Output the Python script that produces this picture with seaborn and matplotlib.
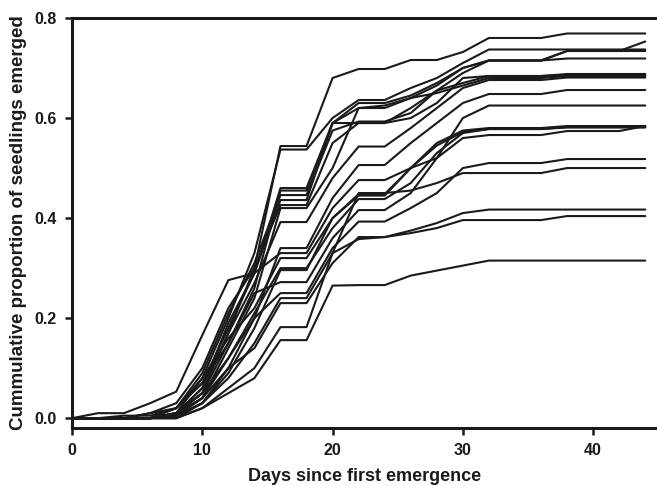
import matplotlib
matplotlib.use("Agg")
import matplotlib.pyplot as plt
import seaborn as sns
import pandas as pd

days = [0, 2, 4, 6, 8, 10, 12, 14, 16, 18, 20, 22, 24, 26, 28, 30, 32, 34, 36, 38, 40, 42, 44]

s01 = [0, 0, 0, 0, 0.010, 0.06, 0.17, 0.30, 0.544, 0.544, 0.680, 0.698, 0.698, 0.716, 0.716, 0.732, 0.760, 0.760, 0.760, 0.769, 0.769, 0.769, 0.769]
s02 = [0, 0, 0, 0, 0.010, 0.08, 0.20, 0.33, 0.537, 0.537, 0.600, 0.636, 0.636, 0.660, 0.680, 0.710, 0.737, 0.737, 0.737, 0.737, 0.737, 0.737, 0.737]
s03 = [0, 0, 0, 0, 0.020, 0.07, 0.18, 0.29, 0.460, 0.460, 0.590, 0.630, 0.630, 0.645, 0.670, 0.700, 0.715, 0.715, 0.715, 0.734, 0.734, 0.734, 0.753]
s04 = [0, 0, 0, 0, 0.010, 0.05, 0.15, 0.26, 0.455, 0.455, 0.590, 0.620, 0.620, 0.640, 0.665, 0.700, 0.715, 0.715, 0.715, 0.734, 0.734, 0.734, 0.734]
s05 = [0, 0, 0.005, 0.005, 0.020, 0.09, 0.21, 0.31, 0.446, 0.446, 0.575, 0.593, 0.593, 0.610, 0.655, 0.690, 0.715, 0.715, 0.715, 0.719, 0.719, 0.719, 0.719]
s06 = [0, 0, 0, 0, 0.010, 0.06, 0.19, 0.29, 0.436, 0.436, 0.590, 0.590, 0.590, 0.600, 0.630, 0.680, 0.684, 0.684, 0.684, 0.688, 0.688, 0.688, 0.688]
s07 = [0, 0, 0, 0.010, 0.030, 0.10, 0.22, 0.30, 0.426, 0.426, 0.550, 0.590, 0.590, 0.620, 0.655, 0.670, 0.684, 0.684, 0.684, 0.686, 0.686, 0.686, 0.686]
s08 = [0, 0, 0, 0, 0.005, 0.04, 0.14, 0.24, 0.420, 0.420, 0.500, 0.620, 0.625, 0.640, 0.650, 0.665, 0.680, 0.680, 0.680, 0.684, 0.684, 0.684, 0.684]
s09 = [0, 0, 0, 0, 0.010, 0.05, 0.17, 0.27, 0.392, 0.392, 0.480, 0.543, 0.543, 0.580, 0.620, 0.660, 0.676, 0.676, 0.676, 0.681, 0.681, 0.681, 0.681]
s10 = [0, 0, 0, 0, 0.005, 0.03, 0.10, 0.20, 0.340, 0.340, 0.440, 0.506, 0.506, 0.550, 0.590, 0.630, 0.648, 0.648, 0.648, 0.656, 0.656, 0.656, 0.656]
s11 = [0, 0.010, 0.010, 0.030, 0.053, 0.166, 0.276, 0.290, 0.330, 0.330, 0.420, 0.476, 0.476, 0.500, 0.520, 0.600, 0.625, 0.625, 0.625, 0.625, 0.625, 0.625, 0.625]
s12 = [0, 0, 0, 0, 0.020, 0.08, 0.16, 0.22, 0.320, 0.320, 0.400, 0.448, 0.448, 0.500, 0.550, 0.575, 0.580, 0.580, 0.580, 0.584, 0.584, 0.584, 0.584]
s13 = [0, 0, 0, 0, 0.010, 0.04, 0.12, 0.21, 0.300, 0.300, 0.380, 0.438, 0.438, 0.470, 0.530, 0.570, 0.578, 0.578, 0.578, 0.582, 0.582, 0.582, 0.582]
s14 = [0, 0, 0, 0, 0.005, 0.03, 0.09, 0.18, 0.296, 0.296, 0.400, 0.445, 0.445, 0.500, 0.545, 0.572, 0.578, 0.578, 0.578, 0.581, 0.581, 0.581, 0.581]
s15 = [0, 0, 0, 0.010, 0.020, 0.07, 0.15, 0.25, 0.272, 0.272, 0.360, 0.416, 0.416, 0.450, 0.520, 0.560, 0.566, 0.566, 0.566, 0.574, 0.574, 0.574, 0.584]
s16 = [0, 0, 0, 0, 0.010, 0.05, 0.12, 0.20, 0.250, 0.250, 0.340, 0.393, 0.393, 0.420, 0.450, 0.500, 0.510, 0.510, 0.510, 0.518, 0.518, 0.518, 0.518]
s17 = [0, 0, 0, 0, 0, 0.03, 0.08, 0.15, 0.240, 0.240, 0.330, 0.450, 0.450, 0.455, 0.470, 0.490, 0.490, 0.490, 0.490, 0.500, 0.500, 0.500, 0.500]
s18 = [0, 0, 0, 0, 0.005, 0.04, 0.10, 0.14, 0.230, 0.230, 0.310, 0.362, 0.362, 0.375, 0.390, 0.410, 0.417, 0.417, 0.417, 0.417, 0.417, 0.417, 0.417]
s19 = [0, 0, 0, 0, 0, 0.02, 0.06, 0.10, 0.182, 0.182, 0.330, 0.358, 0.362, 0.370, 0.380, 0.396, 0.396, 0.396, 0.396, 0.404, 0.404, 0.404, 0.404]
s20 = [0, 0, 0, 0, 0, 0.02, 0.05, 0.08, 0.156, 0.156, 0.265, 0.266, 0.266, 0.285, 0.295, 0.305, 0.315, 0.315, 0.315, 0.315, 0.315, 0.315, 0.315]

series = [s01, s02, s03, s04, s05, s06, s07, s08, s09, s10,
          s11, s12, s13, s14, s15, s16, s17, s18, s19, s20]

x_ticks = [0, 10, 20, 30, 40]
y_ticks = [0.0, 0.2, 0.4, 0.6, 0.8]
y_tick_labels = ["0.0", "0.2", "0.4", "0.6", "0.8"]

rows = []
for i, s in enumerate(series):
    for d, v in zip(days, s):
        rows.append({"day": d, "value": v, "plot": f"P{i+1}"})
df = pd.DataFrame(rows)

sns.set_style("white")
plt.rcParams["font.family"] = ["Liberation Sans", "DejaVu Sans"]
plt.rcParams["font.weight"] = "bold"

fig = plt.figure(figsize=(6.57, 4.86), dpi=100)
ax = fig.add_axes([0.1096, 0.119, 0.8904, 0.844])

sns.lineplot(data=df, x="day", y="value", units="plot", estimator=None,
             color="#1a1a1a", linewidth=1.5, ax=ax, legend=False)

ax.set_xlim(0, 44.9)
ax.set_ylim(-0.02, 0.8)
ax.set_xticks(x_ticks)
ax.set_xticklabels([str(t) for t in x_ticks])
ax.set_yticks(y_ticks)
ax.set_yticklabels(y_tick_labels)

for side in ["left", "bottom", "top"]:
    ax.spines[side].set_visible(True)
    ax.spines[side].set_linewidth(2.2)
    ax.spines[side].set_color("#1a1a1a")
ax.spines["right"].set_visible(False)

ax.tick_params(axis="both", direction="out", length=5, width=1.8,
               colors="#1a1a1a", labelsize=11.5, bottom=True, left=True, pad=6)
for lab in ax.get_xticklabels() + ax.get_yticklabels():
    lab.set_fontweight("bold")

ax.set_xlabel("Days since first emergence", fontsize=13, fontweight="bold",
              color="#1a1a1a", labelpad=7)
ax.set_ylabel("Cummulative proportion of seedlings emerged", fontsize=13.5,
              fontweight="bold", color="#1a1a1a", labelpad=5)

fig.savefig("out.png", dpi=100, facecolor="white")
